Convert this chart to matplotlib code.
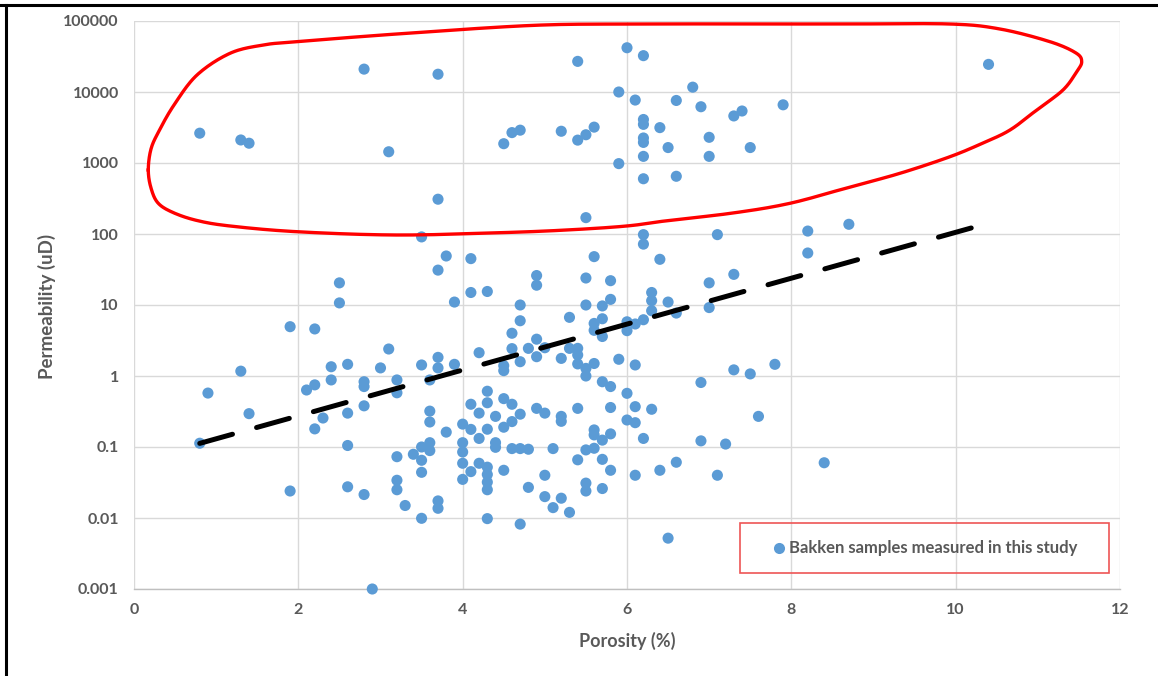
import numpy as np
import matplotlib
matplotlib.use("Agg")
import matplotlib.pyplot as plt
from matplotlib.patches import Rectangle
from matplotlib.lines import Line2D

# ---------------- data ----------------
porosity = [
    2.8, 3.7, 0.8, 1.3, 1.4, 3.1, 3.7, 4.5, 4.6, 4.7, 6.0, 6.2, 5.4, 5.9, 6.1, 6.6, 6.8, 6.9, 7.3, 7.4,
    7.9, 5.2, 5.4, 5.5, 5.6, 5.9, 6.2, 6.2, 6.2, 6.2, 6.2, 6.2, 6.4, 6.5, 6.6, 7.0, 7.0, 7.5, 10.4, 5.5,
    3.5, 3.8, 3.7, 4.1, 2.5, 2.5, 3.9, 4.1, 4.3, 4.7, 6.2, 6.2, 6.4, 7.1, 8.2, 8.7, 8.2, 7.3, 7.0, 5.6,
    5.5, 5.8, 5.8, 5.5, 5.7, 4.9, 4.9, 6.3, 6.3, 6.5, 7.0,
    1.9, 2.2, 1.3, 0.9, 1.4, 0.8, 2.4, 2.4, 2.6, 2.1, 2.2, 2.3, 2.2, 2.6, 2.6, 1.9, 2.6, 2.8, 2.9, 3.1,
    3.0, 2.8, 2.8, 2.8, 3.2, 3.2, 3.5, 3.7, 3.7, 3.9, 3.6, 4.2, 4.1, 4.2, 3.6, 3.6, 3.8, 4.0, 4.1, 4.2,
    3.6, 3.6, 3.5, 3.4, 3.5, 3.5, 3.2, 3.2, 3.2, 3.3, 3.5, 3.7, 3.7, 4.0, 4.0, 4.0, 4.0, 4.1, 4.2,
    4.5, 4.5, 4.6, 4.6, 4.7, 4.7, 4.8, 4.9, 4.9, 5.0, 5.2, 5.3, 5.3, 5.4, 5.4, 5.4, 5.5, 5.5, 5.6, 5.6,
    5.6, 5.7, 5.7, 5.9, 6.0, 6.0, 6.1, 6.2, 6.1, 6.3, 6.6,
    4.3, 4.3, 4.3, 4.3, 4.3, 4.3, 4.3, 4.3, 4.4, 4.4, 4.4, 4.5, 4.5, 4.5, 4.6, 4.6, 4.6, 4.7, 4.7, 4.7,
    4.8, 4.8, 4.9, 5.0, 5.0, 5.0, 5.1, 5.1, 5.2, 5.2, 5.2, 5.3, 5.4, 5.4, 5.5, 5.5, 5.5, 5.6, 5.6, 5.6,
    5.7, 5.7, 5.7, 5.8, 5.7, 5.8, 5.8, 5.8, 6.0, 6.0, 6.1, 6.1, 6.1, 6.2, 6.3, 6.4, 6.5, 6.6,
    7.8, 7.3, 7.5, 6.9, 7.6, 6.9, 7.2, 7.1, 8.4,
]
permeability = [
    21000, 17800, 2630, 2110, 1900, 1440, 309, 1870, 2680, 2900, 42000, 32500, 27000, 10000, 7700, 7600,
    11700, 6200, 4600, 5400, 6600, 2800, 2100, 2500, 3200, 980, 4100, 3500, 2250, 1950, 1240, 600, 3150,
    1650, 650, 2300, 1240, 1650, 24500, 170,
    91, 49, 31, 45, 20.5, 10.7, 11, 15, 15.5, 10, 98, 72, 44, 98, 110, 137, 54, 27, 20.5, 48,
    24, 22, 12, 10, 9.7, 26, 19, 15, 11.5, 11, 9.2,
    4.95, 4.6, 1.17, 0.575, 0.295, 0.113, 1.35, 0.88, 1.46, 0.635, 0.75, 0.256, 0.18, 0.30, 0.105, 0.024,
    0.0275, 0.0214, 0.001, 2.4,
    1.3, 0.83, 0.71, 0.38, 0.88, 0.58, 1.43, 1.83, 1.3, 1.46, 0.88, 2.13, 0.40, 0.30, 0.32, 0.225, 0.162,
    0.21, 0.177, 0.132,
    0.115, 0.089, 0.10, 0.079, 0.065, 0.044, 0.073, 0.034, 0.025, 0.015, 0.0099, 0.0174, 0.0137, 0.115,
    0.085, 0.059, 0.035, 0.045, 0.059,
    1.40, 1.19, 4.0, 2.43, 6.0, 1.59, 2.45, 3.3, 1.87, 2.5, 1.77, 6.7, 2.45, 2.45, 1.98, 1.48, 1.28, 1.0,
    5.5, 4.4, 1.5, 6.4, 3.6, 1.72, 5.8, 4.35, 5.4, 6.2, 1.43, 8.3, 7.7,
    0.61, 0.42, 0.178, 0.052, 0.041, 0.032, 0.025, 0.0098, 0.27, 0.115, 0.099, 0.48, 0.19, 0.047, 0.40,
    0.228, 0.095, 0.29, 0.095, 0.0082, 0.093, 0.027, 0.35, 0.30, 0.040, 0.020, 0.095, 0.014, 0.27, 0.23,
    0.019, 0.012, 0.35, 0.066, 0.091, 0.031, 0.024, 0.174, 0.148, 0.096, 0.125, 0.067, 0.026, 0.71, 0.83,
    0.36, 0.153, 0.047, 0.57, 0.24, 0.37, 0.22, 0.040, 0.132, 0.34, 0.047, 0.0052, 0.061,
    1.46, 1.22, 1.07, 0.81, 0.27, 0.122, 0.11, 0.040, 0.060,
]

# exponential trendline  k = a * exp(b * phi), drawn over this porosity range
trend_a = 0.062
trend_b = 0.744
trend_range = [0.8, 10.4]

x_ticks = [0, 2, 4, 6, 8, 10, 12]
y_ticks = [0.001, 0.01, 0.1, 1, 10, 100, 1000, 10000, 100000]
y_tick_labels = ["0.001", "0.01", "0.1", "1", "10", "100", "1000", "10000", "100000"]

legend_label = "Bakken samples measured in this study"
x_label = "Porosity (%)"
y_label = "Permeability (uD)"

# ---------------- figure ----------------
W, H = 1158, 676
fig = plt.figure(figsize=(W / 100, H / 100), dpi=100)
FONT = ["Lato", "DejaVu Sans"]
GRAY = "#595959"


def fx(px):
    return px / W


def fy(py):
    return 1 - py / H


ax = fig.add_axes([fx(134), fy(589), fx(1120) - fx(134), fy(21) - fy(589)])
ax.set_xlim(0, 12)
ax.set_yscale("log")
ax.set_ylim(0.001, 100000)
ax.set_xticks(x_ticks)
ax.set_yticks(y_ticks)
ax.set_yticklabels(y_tick_labels)
ax.yaxis.set_minor_locator(matplotlib.ticker.NullLocator())
ax.grid(True, color="#d9d9d9", lw=1.0)
ax.set_axisbelow(True)
for s in ["top", "right", "left"]:
    ax.spines[s].set_visible(False)
ax.spines["bottom"].set_color("#bfbfbf")
ax.spines["bottom"].set_linewidth(1.0)
ax.tick_params(length=0, labelcolor=GRAY, labelsize=11.5)
ax.tick_params(axis="y", pad=11)
ax.tick_params(axis="x", pad=10)
for lab in ax.get_xticklabels() + ax.get_yticklabels():
    lab.set_fontfamily(FONT)
    lab.set_fontweight("bold")

ax.scatter(porosity, permeability, s=64, color="#5B9BD5", edgecolors="none", zorder=3, clip_on=False)

tx = np.linspace(trend_range[0], trend_range[1], 200)
ax.plot(tx, trend_a * np.exp(trend_b * tx), color="black", lw=3.6,
        dashes=(6.8, 5.0), dash_capstyle="round", zorder=4)

# axis titles
fig.text(fx(47), fy(306), y_label, rotation=90, ha="center", va="center",
         color=GRAY, fontsize=13.5, fontweight="bold", family=FONT)
fig.text(fx(627), fy(641), x_label, ha="center", va="center",
         color=GRAY, fontsize=13, fontweight="bold", family=FONT)

# legend (box + entry)
fig.patches.append(Rectangle((fx(740), fy(573)), fx(1109) - fx(740), fy(523) - fy(573),
                             transform=fig.transFigure, fill=False, edgecolor="#ee5555", lw=1.2))
fig.add_artist(Line2D([fx(779)], [fy(548)], marker="o", markersize=8, color="#5B9BD5",
                      markeredgewidth=0, transform=fig.transFigure))
fig.text(fx(789), fy(548), legend_label, ha="left", va="center", color=GRAY,
         fontsize=12, fontweight="bold", family=FONT)

# red hand-drawn outline around high-permeability samples (annotation)
outline = np.array([
    (148.3, 170), (151.0, 149), (159, 131), (174, 105), (197, 75), (230, 53.3), (263.3, 45),
    (296.7, 41.7), (396.7, 34), (530, 25.5), (626, 24), (750, 24), (850, 24), (950, 24), (1000, 29),
    (1050, 41.7), (1076, 53), (1081.7, 61.7), (1076.7, 71.7), (1063, 90), (1036.7, 110), (1010, 130),
    (983, 143), (950, 156.7), (900, 173.3), (850, 187), (790, 203.3), (733, 213), (667, 220.7),
    (626.7, 226), (566.7, 230), (500, 232.7), (396.7, 235), (296.7, 231.7), (230, 226), (197, 220.5),
    (173, 212.5), (158, 203), (151, 188),
])


def catmull_closed(p, n=20):
    out = []
    m = len(p)
    for i in range(m):
        p0, p1, p2, p3 = p[(i - 1) % m], p[i], p[(i + 1) % m], p[(i + 2) % m]
        t = np.linspace(0, 1, n, endpoint=False)[:, None]
        seg = 0.5 * ((2 * p1) + (-p0 + p2) * t + (2 * p0 - 5 * p1 + 4 * p2 - p3) * t ** 2
                     + (-p0 + 3 * p1 - 3 * p2 + p3) * t ** 3)
        out.append(seg)
    out = np.vstack(out)
    return np.vstack([out, out[:1]])


curve = catmull_closed(outline)
fig.add_artist(Line2D(curve[:, 0] / W, 1 - curve[:, 1] / H, color="#ff0000", lw=2.4,
                      transform=fig.transFigure, solid_joinstyle="round"))

# black frame lines (top and left) of the screenshot
fig.add_artist(Line2D([0, 1], [fy(4.5), fy(4.5)], color="black", lw=2.2, transform=fig.transFigure))
fig.add_artist(Line2D([fx(6), fx(6)], [0, fy(4.5)], color="black", lw=2.2, transform=fig.transFigure))

fig.savefig("out.png", dpi=100, facecolor="white")
